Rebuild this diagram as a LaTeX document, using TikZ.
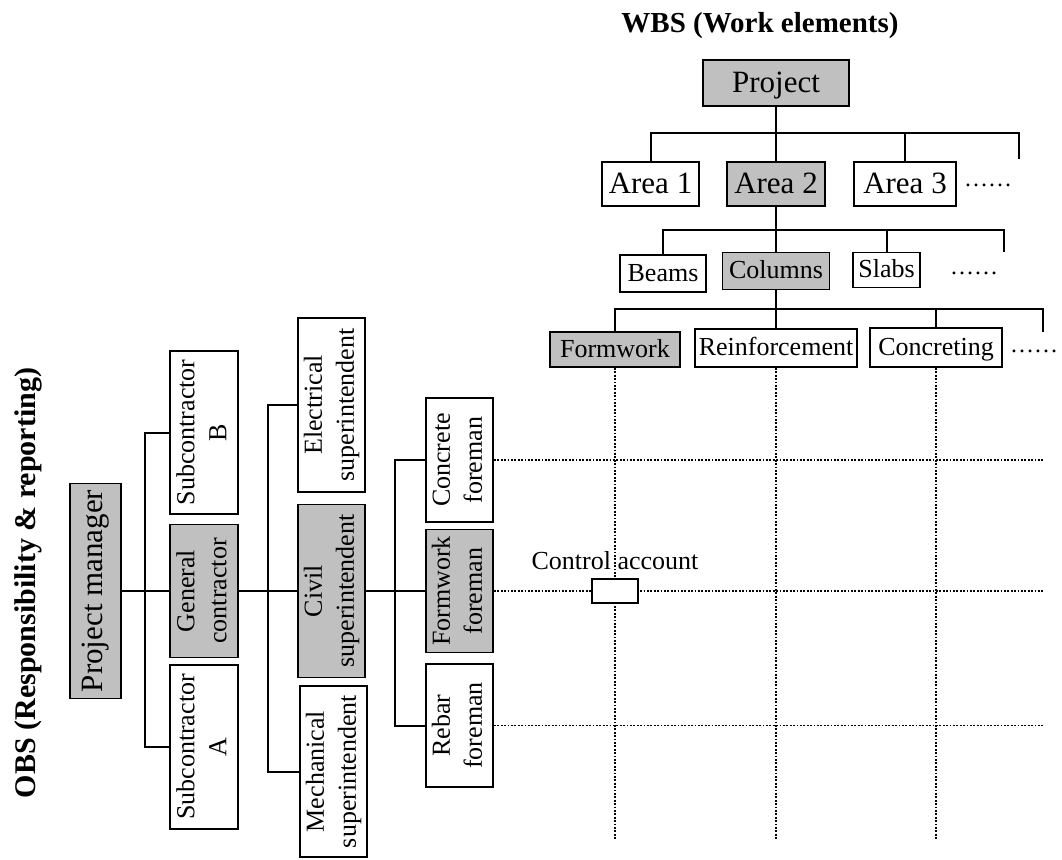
\documentclass[tikz,border=0pt]{standalone}
\usepackage{fontspec}
\setmainfont{Liberation Serif}
\usetikzlibrary{positioning}
\definecolor{boxgray}{RGB}{192,192,192}
\newcommand{\vt}[1]{\rotatebox{90}{\begin{tabular}{@{}c@{}}#1\end{tabular}}}

\begin{document}
\begin{tikzpicture}[
  x=1pt, y=1pt,
  box/.style={draw, line width=1.8pt, inner sep=0pt, font=\fontsize{26}{32}\selectfont},
  hbox/.style={box, text height=19.5pt, text depth=3.9pt},
  big/.style={font=\fontsize{31}{36}\selectfont, text height=23.3pt, text depth=4.7pt},
  grayfill/.style={fill=boxgray},
  wh/.style 2 args={minimum width=#1pt, minimum height=#2pt},
  link/.style={line width=2pt},
  gridline/.style={line width=1.8pt, dash pattern=on 1.8pt off 1.6pt},
  etcdots/.style={anchor=base, font=\fontsize{24}{28}\selectfont}
]
\useasboundingbox (0,0) rectangle (1062,-859);

\node [font=\bfseries\fontsize{29}{34}\selectfont, anchor=base] (wbs) at (760,-33) {WBS (Work elements)};
\node [hbox, grayfill, big, wh={146}{46}] (proj) at (776,-83) {Project};

\coordinate (bus1) at (776,-133);
\coordinate (end1) at (1019,-159);
\node [hbox, big, wh={97}{44}] (area1) at (650.5,-184) {Area 1};
\node [hbox, grayfill, big, wh={98}{44}] (area2) at (776,-184) {Area 2};
\node [hbox, big, wh={102}{44}] (area3) at (905,-184) {Area 3};
\node [etcdots] (more1) at (988,-186) {……};
\draw [link] (proj) -- (area2);
\draw [link] (area1.north) |- (end1 |- bus1) -- (end1);
\draw [link] (area3) -- (area3 |- bus1);

\coordinate (bus2) at (776,-230);
\coordinate (end2) at (1004,-252);
\node [hbox, wh={86}{37}] (beams) at (663,-273.5) {Beams};
\node [hbox, grayfill, wh={107}{37}] (cols) at (776,-271) {Columns};
\node [hbox, wh={67}{35}] (slabs) at (886.5,-270) {Slabs};
\node [etcdots] (more2) at (974,-274) {……};
\draw [link] (area2) -- (cols);
\draw [link] (beams.north) |- (end2 |- bus2) -- (end2);
\draw [link] (slabs) -- (slabs |- bus2);

\coordinate (bus3) at (776,-309);
\coordinate (end3) at (1043,-332);
\node [hbox, grayfill, wh={130}{35}] (form) at (615,-349.5) {Formwork};
\node [hbox, wh={162}{38}] (reinf) at (776,-348) {Reinforcement};
\node [hbox, wh={132}{39}] (concr) at (936,-347.5) {Concreting};
\node [etcdots] (more3) at (1034,-352) {……};
\draw [link] (cols) -- (reinf);
\draw [link] (form.north) |- (end3 |- bus3) -- (end3);
\draw [link] (concr) -- (concr |- bus3);

\node [font=\bfseries\fontsize{30}{36}\selectfont, rotate=90] (obs) at (28,-583) {OBS (Responsibility \& reporting)};
\node [box, grayfill, font=\fontsize{31}{36}\selectfont, wh={51}{215}] (pm) at (95.5,-591) {\vt{Project manager}};

\coordinate (busA) at (145,-591);
\node [box, wh={68}{163}] (subB) at (204,-432.5) {\vt{Subcontractor\\B}};
\node [box, grayfill, wh={68}{133}] (gc) at (204,-591) {\vt{General\\contractor}};
\node [box, wh={68}{164}] (subA) at (204,-747) {\vt{Subcontractor\\A}};
\draw [link] (pm) -- (gc);
\draw [link] (subB.west) -| (busA) |- (subA.west);

\coordinate (busB) at (268,-591);
\node [box, wh={67}{174}] (elec) at (331.5,-405) {\vt{Electrical\\superintendent}};
\node [box, grayfill, wh={67}{173}] (civ) at (331.5,-591) {\vt{Civil\\superintendent}};
\node [box, wh={67}{171}] (mech) at (333.5,-771.5) {\vt{Mechanical\\superintendent}};
\draw [link] (gc) -- (civ);
\draw [link] (elec.west) -| (busB) |- (mech.west);

\coordinate (busC) at (395,-591);
\node [box, wh={67}{124}] (concf) at (459.5,-460) {\vt{Concrete\\foreman}};
\node [box, grayfill, wh={67}{123}] (formf) at (459.5,-591) {\vt{Formwork\\foreman}};
\node [box, wh={67}{123}] (rebf) at (459.5,-725.5) {\vt{Rebar\\foreman}};
\draw [link] (civ) -- (formf);
\draw [link] (concf.west) -| (busC) |- (rebf.west);

\coordinate (gridR) at (1043,0);
\coordinate (gridB) at (0,-839);
\foreach \c in {form, reinf, concr}
  \draw [gridline] (\c.south) -- (\c.south |- gridB);
\foreach \r in {concf, formf, rebf}
  \draw [gridline] (\r.east) -- (\r.east -| gridR);

\node [box, fill=white, wh={46}{24}] (ca) at (form.south |- formf.east) {};
\node [box, draw=none, above=7pt of ca] (calab) {Control account};
\end{tikzpicture}
\end{document}
